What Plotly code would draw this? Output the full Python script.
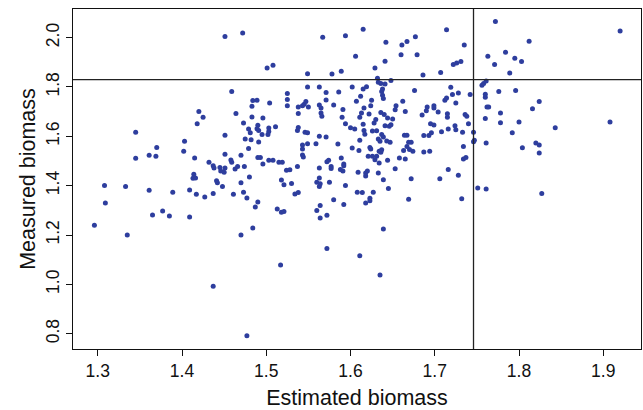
import plotly.graph_objects as go

est = [1.296,1.308,1.309,1.333,1.335,1.345,1.345,1.361,1.361,1.365,1.370,1.369,1.377,1.385,1.389,
1.402,1.403,1.409,1.409,1.420,1.425,1.418,1.415,1.414,1.413,1.416,1.417,1.427,1.432,1.437,1.438,1.437,1.437,
1.441,1.442,1.445,1.446,1.448,1.451,1.450,1.451,1.451,1.451,1.459,1.458,1.459,1.461,1.464,1.463,1.466,1.470,
1.470,1.470,1.472,1.473,1.473,1.474,1.475,1.477,1.477,1.479,1.479,1.480,1.481,1.483,1.484,1.483,1.482,1.484,
1.487,1.489,1.490,1.489,1.490,1.490,1.491,1.491,1.493,1.495,1.496,1.496,1.501,1.503,1.502,1.504,1.503,1.503,
1.508,1.508,1.511,1.513,1.515,1.517,1.518,1.519,1.518,1.521,1.521,1.524,1.525,1.525,1.525,1.528,1.530,1.534,
1.537,1.538,1.537,1.538,1.538,1.538,1.543,1.543,1.543,1.544,1.543,1.545,1.546,1.547,1.549,1.549,1.549,1.549,
1.550,1.560,1.560,1.559,1.563,1.563,1.563,1.563,1.563,1.563,1.564,1.564,1.564,1.565,1.565,1.566,1.567,1.571,
1.571,1.571,1.572,1.572,1.572,1.574,1.575,1.577,1.577,1.578,1.580,1.580,1.585,1.586,1.588,1.589,1.589,1.590,
1.591,1.591,1.592,1.592,1.592,1.594,1.594,1.594,1.600,1.602,1.602,1.605,1.606,1.607,1.608,1.609,1.610,1.611,
1.611,1.611,1.612,1.613,1.614,1.615,1.615,1.615,1.616,1.616,1.617,1.618,1.618,1.618,1.619,1.620,1.621,1.622,
1.623,1.623,1.623,1.624,1.624,1.625,1.626,1.626,1.627,1.628,1.629,1.629,1.630,1.631,1.631,1.632,1.633,1.633,
1.633,1.634,1.634,1.635,1.635,1.636,1.636,1.636,1.637,1.637,1.637,1.638,1.638,1.639,1.639,1.639,1.639,1.640,
1.641,1.641,1.641,1.642,1.643,1.644,1.644,1.645,1.646,1.648,1.647,1.648,1.650,1.653,1.653,1.654,1.658,1.660,
1.661,1.662,1.663,1.664,1.665,1.665,1.667,1.667,1.667,1.669,1.669,1.670,1.672,1.672,1.674,1.676,1.677,1.679,
1.685,1.686,1.687,1.687,1.690,1.691,1.693,1.694,1.695,1.696,1.699,1.699,1.699,1.704,1.706,1.707,1.708,1.712,
1.714,1.714,1.715,1.715,1.716,1.716,1.719,1.721,1.722,1.724,1.725,1.725,1.726,1.728,1.728,1.731,1.732,1.733,
1.734,1.734,1.735,1.736,1.737,1.738,1.740,1.742,1.746,1.746,1.747,1.751,1.756,1.758,1.760,1.760,1.761,1.760,
1.761,1.761,1.762,1.763,1.764,1.771,1.772,1.776,1.778,1.778,1.784,1.789,1.792,1.795,1.796,1.800,1.803,1.804,
1.812,1.816,1.820,1.824,1.824,1.824,1.827,1.843,1.908,1.920]

meas = [1.240,1.401,1.330,1.397,1.200,1.616,1.511,1.523,1.381,1.281,1.555,1.519,1.297,1.277,1.373,
1.539,1.580,1.273,1.382,1.701,1.677,1.651,1.512,1.446,1.430,1.431,1.365,1.354,1.495,1.481,1.472,1.368,0.992,
1.420,1.412,1.474,1.459,1.397,2.005,1.454,1.472,1.527,1.604,1.782,1.504,1.495,1.365,1.692,1.468,1.478,1.523,
1.412,1.200,2.019,1.654,1.373,1.478,1.589,1.350,0.792,1.630,1.551,1.435,1.614,1.722,1.745,1.678,1.586,1.228,
1.314,1.746,1.645,1.631,1.334,1.514,1.577,1.624,1.514,1.607,1.488,1.674,1.877,1.620,1.607,1.735,1.634,1.503,
1.888,1.503,1.639,1.305,1.495,1.078,1.423,1.495,1.292,1.295,1.404,1.462,1.749,1.724,1.774,1.464,1.409,1.366,
1.478,1.372,1.624,1.636,1.692,1.719,1.565,1.549,1.524,1.516,1.724,1.730,1.616,1.741,1.854,1.800,1.614,1.570,
1.719,1.299,1.414,1.570,1.800,1.727,1.600,1.472,1.431,1.397,1.408,1.269,1.320,1.715,1.695,1.681,2.001,1.778,
1.747,1.597,1.497,1.145,1.280,1.503,1.414,1.478,1.470,1.853,1.727,1.343,1.569,1.780,1.465,1.512,1.864,1.677,
1.459,1.709,1.488,1.324,1.481,2.008,1.401,1.651,1.635,1.553,1.800,1.630,1.924,1.742,1.373,1.454,1.543,1.584,
1.116,1.677,1.762,1.695,1.372,1.649,1.792,2.034,1.715,1.624,1.608,1.439,1.451,1.330,1.801,1.459,1.519,1.690,
1.349,1.339,1.555,1.724,1.549,1.746,1.622,1.519,1.373,1.654,1.877,1.505,1.668,1.519,1.623,1.835,1.589,1.819,
1.451,1.492,1.539,1.038,1.580,1.814,1.697,1.535,1.546,1.607,1.782,1.792,1.766,1.753,1.424,1.224,1.597,1.688,
1.904,1.812,1.643,1.981,1.581,1.674,1.503,1.388,1.641,1.826,1.576,1.647,1.670,1.469,1.708,1.724,1.512,1.931,
1.970,1.742,1.543,1.604,1.508,1.701,1.604,1.559,1.984,1.576,1.345,1.547,1.428,1.576,1.539,1.786,2.004,1.931,
1.686,1.849,1.603,1.536,1.704,1.719,1.603,1.539,1.651,1.614,1.646,1.724,1.715,1.699,1.428,1.859,1.618,1.746,
2.032,1.755,1.677,1.691,1.465,1.630,1.799,1.769,1.891,1.643,1.627,1.735,1.897,1.776,1.442,1.903,1.347,1.616,
1.559,1.508,1.970,1.688,1.514,1.681,1.651,1.769,1.616,1.578,1.584,1.391,1.807,1.814,1.758,1.770,1.824,1.672,
1.573,1.386,1.719,1.924,1.719,1.891,2.065,1.782,1.695,1.655,1.941,1.857,1.614,1.916,1.786,1.658,1.903,1.554,
1.985,1.712,1.573,1.565,1.741,1.532,1.368,1.635,1.658,2.027]

x_ticks = [1.3, 1.4, 1.5, 1.6, 1.7, 1.8, 1.9]
y_ticks = [0.8, 1.0, 1.2, 1.4, 1.6, 1.8, 2.0]
x_cut = 1.746
y_cut = 1.83

fig = go.Figure()
fig.add_trace(go.Scatter(
    x=est, y=meas, mode="markers",
    marker=dict(size=5, color="#2E3E9E", line=dict(width=0)),
    showlegend=False, hoverinfo="skip"))

fig.add_shape(type="line", xref="x", yref="paper", x0=x_cut, x1=x_cut, y0=0, y1=1,
              line=dict(color="#222222", width=1.3))
fig.add_shape(type="line", xref="paper", yref="y", x0=0, x1=1, y0=y_cut, y1=y_cut,
              line=dict(color="#222222", width=1.3))

font_family = "Liberation Sans, Arial, Helvetica, sans-serif"
fig.update_layout(
    width=643, height=410,
    margin=dict(l=73, r=2, t=9, b=61),
    paper_bgcolor="white", plot_bgcolor="white",
    font=dict(family=font_family, color="#111111"),
    xaxis=dict(range=[1.2706, 1.9448], tickvals=x_ticks, ticktext=[f"{v:.1f}" for v in x_ticks],
               automargin=False,
               showgrid=False, zeroline=False, showline=True, mirror=True, linecolor="#111111",
               linewidth=1.2, ticks="outside", ticklen=6, tickwidth=1, tickcolor="#111111",
               tickfont=dict(size=17.5), title=dict(text="Estimated biomass", font=dict(size=21.5), standoff=9)),
    yaxis=dict(range=[0.738, 2.116], tickvals=y_ticks, ticktext=[f"{v:.1f}" for v in y_ticks],
               automargin=False,
               showgrid=False, zeroline=False, showline=True, mirror=True, linecolor="#111111",
               linewidth=1.2, ticks="outside", ticklen=6, tickwidth=1, tickcolor="#111111",
               tickangle=-90,
               tickfont=dict(size=17.5), title=dict(text="Measured biomass", font=dict(size=21.5), standoff=1)),
)

fig.write_html("out.html", config={"displayModeBar": False, "staticPlot": True},
               post_script="document.body.style.margin='0';document.body.style.overflow='hidden';")
